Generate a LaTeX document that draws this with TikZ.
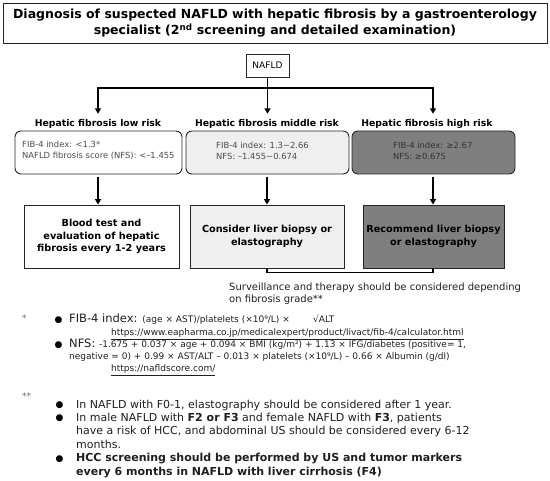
\documentclass[tikz,border=0pt]{standalone}
\usepackage{fontspec}
\setmainfont{DejaVu Sans}
\usetikzlibrary{arrows.meta}
\definecolor{midfill}{HTML}{EFEFEF}
\definecolor{highfill}{HTML}{7F7F7F}
\definecolor{bodytxt}{HTML}{1F1F1F}
\begin{document}
\begin{tikzpicture}[x=1pt,y=-1pt,
  box/.style={draw=black!85, line width=0.9pt, inner sep=0pt},
  topbox/.style={box, rounded corners=6pt},
  conn/.style={line width=1.6pt, black},
  arr/.style={conn, -{Triangle[length=5.5pt,width=6pt]}},
  ttl/.style={font=\fontsize{12.5}{16}\selectfont\bfseries, align=center},
  head/.style={font=\fontsize{9.3}{11}\selectfont\bfseries, inner sep=0pt},
  small/.style={font=\fontsize{8.4}{11}\selectfont, text=black!70, align=left, inner sep=0pt},
  btxt/.style={font=\fontsize{9.7}{12.5}\selectfont\bfseries, align=center},
  ln/.style={anchor=base west, inner sep=0pt, text=bodytxt},
  nine/.style={font=\fontsize{9}{11}\selectfont},
  eleven/.style={font=\fontsize{11}{13}\selectfont},
  elevenbf/.style={font=\fontsize{11}{13}\selectfont\bfseries},
  star/.style={anchor=base west, inner sep=0pt, text=black!60, font=\fontsize{9}{11}\selectfont},
  dot/.style={anchor=base west, inner sep=0pt, text=black, font=\fontsize{9}{11}\selectfont}
]
\useasboundingbox (0,0) rectangle (550,481);

% title
\node[box, minimum width=544pt, minimum height=40pt, ttl] (title) at (275,23)
  {Diagnosis of suspected NAFLD with hepatic fibrosis by a gastroenterology\\specialist (2\textsuperscript{nd} screening and detailed examination)};

% NAFLD and branches
\node[box, minimum width=43pt, minimum height=23pt, font=\fontsize{9}{11}\selectfont] (nafld) at (267.5,65.5) {NAFLD};
\node[head] (h1) at (98,124) {Hepatic fibrosis low risk};
\node[head] (h2) at (267,124) {Hepatic fibrosis middle risk};
\node[head] (h3) at (427,124) {Hepatic fibrosis high risk};
\coordinate (jL) at (98,88);
\coordinate (jR) at (433,88);
\draw[arr, shorten >=5.5pt] (nafld.south) -- (nafld.south |- h2.north);
\draw[arr, shorten >=5.5pt] (nafld.south |- jL) -| (h1.north);
\draw[arr, shorten >=5.5pt] (nafld.south |- jR) -| (jR |- h3.north);

% criteria boxes
\node[topbox, fill=white, minimum width=167pt, minimum height=43pt] (t1) at (98.5,152.5) {};
\node[topbox, fill=midfill, minimum width=163pt, minimum height=43pt] (t2) at (267.5,152.5) {};
\node[topbox, fill=highfill, minimum width=163pt, minimum height=43pt] (t3) at (433.5,152.5) {};
\node[small, anchor=west] (t1a) at (22,150.5) {FIB-4 index: <1.3*\\NAFLD fibrosis score (NFS): <–1.455};
\node[small, anchor=west] (t2a) at (216,150.5) {FIB-4 index: 1.3\textasciitilde2.66\\NFS: –1.455\textasciitilde0.674};
\node[small, anchor=west, text=black!80] (t3a) at (393,150.5) {FIB-4 index: ≥2.67\\NFS: ≥0.675};

% action boxes
\node[box, minimum width=155pt, minimum height=63pt, btxt] (b1) at (101.5,236.5) {Blood test and\\evaluation of hepatic\\fibrosis every 1-2 years};
\node[box, fill=midfill, minimum width=154pt, minimum height=63pt, btxt] (b2) at (267,236.5) {Consider liver biopsy or\\elastography};
\node[box, fill=highfill, minimum width=141pt, minimum height=63pt, btxt] (b3) at (433.5,236.5) {Recommend liver biopsy\\or elastography};

\draw[arr] ([yshift=-3pt]t1.south -| jL) -- (jL |- b1.north);
\draw[arr] ([yshift=-3pt]t2.south -| b2.north) -- (b2.north);
\draw[arr] ([yshift=-3pt]t3.south -| jR) -- (jR |- b3.north);

% bracket
\draw[conn] (b2.south) -- ++(0,4) -| (jR |- b3.south);

\node[ln, font=\fontsize{10}{12}\selectfont] (s1) at (229,291) {Surveillance and therapy should be considered depending};
\node[ln, font=\fontsize{10}{12}\selectfont] (s2) at (229,303) {on fibrosis grade**};

% footnote *
\node[star] (st1) at (22,322) {*};
\node[dot] (d1) at (54.5,322.5) {●};
\node[ln] (f1) at (69,323) {\fontsize{11.5}{13}\selectfont FIB-4 index: \fontsize{9}{11}\selectfont (age × AST)/platelets (×10⁹/L) ×};
\node[ln, nine] (f1b) at (313,323) {√ALT};
\node[ln, nine] (u1) at (111,336) {\underline{https://www.eapharma.co.jp/medicalexpert/product/livact/fib-4/calculator.html}};
\node[dot] (d2) at (54.5,347.5) {●};
\node[ln] (n1) at (69,348) {\fontsize{11.5}{13}\selectfont NFS: \fontsize{9}{11}\selectfont -1.675 + 0.037 × age + 0.094 × BMI (kg/m²) + 1.13 × IFG/diabetes (positive= 1,};
\node[ln, nine] (n2) at (69,360) {negative = 0) + 0.99 × AST/ALT – 0.013 × platelets (×10⁹/L) – 0.66 × Albumin (g/dl)};
\node[ln, nine] (u2) at (111,372) {\underline{https://nafldscore.com/}};

% footnote **
\node[star] (st2) at (22,400) {**};
\node[dot] (d3) at (55.5,408) {●};
\node[dot] (d4) at (55.5,421) {●};
\node[dot] (d5) at (55.5,461.5) {●};
\node[ln, eleven] (l1) at (76,408.5) {In NAFLD with F0-1, elastography should be considered after 1 year.};
\node[ln, eleven] (l2) at (76,421.5) {In male NAFLD with \textbf{F2 or F3} and female NAFLD with \textbf{F3}, patients};
\node[ln, eleven] (l3) at (76,435) {have a risk of HCC, and abdominal US should be considered every 6-12};
\node[ln, eleven] (l4) at (76,448.5) {months.};
\node[ln, elevenbf] (l5) at (76,462) {HCC screening should be performed by US and tumor markers};
\node[ln, elevenbf] (l6) at (76,475.5) {every 6 months in NAFLD with liver cirrhosis (F4)};
\end{tikzpicture}
\end{document}
